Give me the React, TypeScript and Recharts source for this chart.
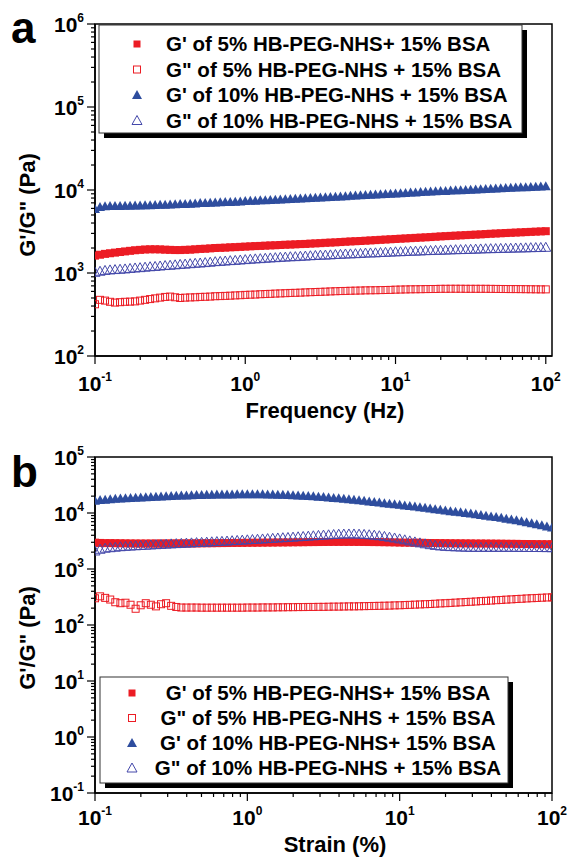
import React from 'react';
import { ScatterChart, Scatter, XAxis, YAxis, ReferenceArea } from 'recharts';

// ---------- data ----------
const freqHz = [
  0.1, 0.108, 0.1166, 0.1259, 0.1359, 0.1468, 0.1585, 0.1711, 0.1848, 0.1995,
  0.2154, 0.2326, 0.2512, 0.2712, 0.2929, 0.3162, 0.3415, 0.3687, 0.3981, 0.4299,
  0.4642, 0.5012, 0.5412, 0.5843, 0.631, 0.6813, 0.7356, 0.7943, 0.8577, 0.9261,
  1, 1.08, 1.166, 1.259, 1.359, 1.468, 1.585, 1.711, 1.848, 1.995,
  2.154, 2.326, 2.512, 2.712, 2.929, 3.162, 3.415, 3.687, 3.981, 4.299,
  4.642, 5.012, 5.412, 5.843, 6.31, 6.813, 7.356, 7.943, 8.577, 9.261,
  10, 10.8, 11.66, 12.59, 13.59, 14.68, 15.85, 17.11, 18.48, 19.95,
  21.54, 23.26, 25.12, 27.12, 29.29, 31.62, 34.15, 36.87, 39.81, 42.99,
  46.42, 50.12, 54.12, 58.43, 63.1, 68.13, 73.56, 79.43, 85.77, 92.61,
  100,
];
const strainPct = [
  0.1, 0.108, 0.1166, 0.1259, 0.1359, 0.1468, 0.1585, 0.1711, 0.1848, 0.1995,
  0.2154, 0.2326, 0.2512, 0.2712, 0.2929, 0.3162, 0.3415, 0.3687, 0.3981, 0.4299,
  0.4642, 0.5012, 0.5412, 0.5843, 0.631, 0.6813, 0.7356, 0.7943, 0.8577, 0.9261,
  1, 1.08, 1.166, 1.259, 1.359, 1.468, 1.585, 1.711, 1.848, 1.995,
  2.154, 2.326, 2.512, 2.712, 2.929, 3.162, 3.415, 3.687, 3.981, 4.299,
  4.642, 5.012, 5.412, 5.843, 6.31, 6.813, 7.356, 7.943, 8.577, 9.261,
  10, 10.8, 11.66, 12.59, 13.59, 14.68, 15.85, 17.11, 18.48, 19.95,
  21.54, 23.26, 25.12, 27.12, 29.29, 31.62, 34.15, 36.87, 39.81, 42.99,
  46.42, 50.12, 54.12, 58.43, 63.1, 68.13, 73.56, 79.43, 85.77, 92.61,
  100,
];

// Panel a (frequency sweep)
const aGp5 = [
  1620, 1660, 1700, 1730, 1760, 1790, 1820, 1850, 1880, 1900,
  1920, 1930, 1930, 1925, 1910, 1900, 1890, 1890, 1900, 1910,
  1930, 1950, 1960, 1980, 2000, 2010, 2020, 2040, 2050, 2065,
  2080, 2095, 2110, 2120, 2135, 2150, 2160, 2175, 2190, 2200,
  2215, 2230, 2240, 2260, 2275, 2290, 2310, 2325, 2340, 2360,
  2380, 2400, 2415, 2430, 2450, 2470, 2490, 2510, 2530, 2550,
  2570, 2590, 2610, 2630, 2650, 2670, 2690, 2710, 2735, 2760,
  2780, 2800, 2820, 2840, 2860, 2880, 2900, 2920, 2945, 2970,
  2990, 3010, 3030, 3050, 3070, 3090, 3110, 3130, 3150, 3170,
  3190,
];
const aGpp5 = [
  420, 475, 465, 450, 440, 445, 450, 452, 455, 465,
  475, 485, 495, 505, 515, 520, 510, 500, 505, 508,
  510, 515, 517, 520, 525, 527, 530, 533, 537, 540,
  545, 548, 550, 555, 558, 561, 565, 568, 571, 575,
  577, 580, 584, 587, 590, 593, 596, 600, 603, 606,
  608, 611, 613, 615, 618, 619, 620, 622, 624, 626,
  630, 632, 634, 636, 637, 638, 640, 641, 642, 645,
  645, 646, 646, 646, 645, 645, 645, 645, 645, 644,
  643, 642, 641, 640, 640, 639, 638, 637, 636, 635,
  635,
];
const aGp10 = [
  5900, 6250, 6350, 6400, 6400, 6420, 6450, 6480, 6500, 6500,
  6530, 6560, 6600, 6630, 6660, 6700, 6730, 6760, 6800, 6850,
  6900, 6950, 6980, 7000, 7060, 7100, 7150, 7180, 7220, 7280,
  7350, 7400, 7440, 7500, 7550, 7600, 7640, 7680, 7730, 7800,
  7850, 7900, 7960, 8000, 8050, 8100, 8170, 8230, 8300, 8350,
  8420, 8500, 8560, 8620, 8700, 8760, 8830, 8900, 8960, 9030,
  9100, 9160, 9230, 9300, 9360, 9430, 9500, 9560, 9630, 9700,
  9760, 9830, 9900, 9960, 10030, 10100, 10160, 10230, 10300, 10360,
  10430, 10500, 10560, 10630, 10700, 10760, 10830, 10900, 10970, 11040,
  11100,
];
const aGpp10 = [
  1020, 1050, 1075, 1090, 1100, 1110, 1120, 1135, 1150, 1160,
  1175, 1190, 1200, 1215, 1230, 1240, 1255, 1270, 1280, 1295,
  1310, 1320, 1335, 1350, 1370, 1380, 1395, 1410, 1420, 1435,
  1450, 1465, 1480, 1490, 1505, 1520, 1530, 1545, 1555, 1570,
  1575, 1590, 1600, 1615, 1625, 1640, 1645, 1655, 1670, 1680,
  1695, 1700, 1710, 1720, 1740, 1745, 1750, 1765, 1775, 1785,
  1800, 1805, 1815, 1830, 1835, 1845, 1860, 1865, 1875, 1880,
  1890, 1900, 1910, 1915, 1920, 1930, 1940, 1950, 1960, 1965,
  1970, 1980, 1985, 1990, 2000, 2005, 2010, 2020, 2025, 2030,
  2040,
];

// Panel b (strain sweep)
const bGp5 = [
  2950, 2920, 2900, 2900, 2890, 2880, 2870, 2860, 2855, 2850,
  2850, 2850, 2850, 2850, 2850, 2850, 2855, 2860, 2860, 2865,
  2870, 2880, 2885, 2890, 2900, 2905, 2910, 2920, 2925, 2930,
  2940, 2945, 2950, 2960, 2965, 2970, 2980, 2985, 2990, 3000,
  3005, 3010, 3020, 3025, 3030, 3040, 3045, 3050, 3050, 3050,
  3050, 3050, 3045, 3040, 3030, 3025, 3020, 3010, 3000, 2990,
  2970, 2960, 2950, 2945, 2935, 2920, 2910, 2905, 2895, 2890,
  2880, 2875, 2870, 2865, 2860, 2850, 2850, 2845, 2840, 2835,
  2830, 2820, 2815, 2810, 2800, 2795, 2790, 2780, 2775, 2770,
  2760,
];
const bGpp5 = [
  300, 325, 305, 285, 255, 245, 250, 230, 195, 225,
  245, 230, 215, 235, 245, 220, 210, 205, 205, 205,
  205, 204, 204, 204, 204, 204, 204, 204, 204, 204,
  205, 205, 205, 206, 206, 206, 207, 207, 208, 208,
  209, 209, 210, 210, 211, 211, 212, 213, 213, 214,
  215, 215, 216, 217, 218, 219, 220, 221, 222, 224,
  225, 227, 229, 231, 233, 235, 237, 240, 243, 245,
  248, 251, 254, 257, 260, 263, 267, 270, 273, 277,
  280, 284, 287, 291, 294, 298, 301, 304, 307, 310,
  312,
];
const bGp10 = [
  16500, 17000, 17300, 17600, 17900, 18100, 18300, 18550, 18800, 19000,
  19200, 19400, 19600, 19800, 20000, 20200, 20350, 20500, 20600, 20750,
  20900, 21000, 21150, 21250, 21300, 21400, 21450, 21500, 21550, 21600,
  21600, 21600, 21600, 21550, 21450, 21350, 21200, 21100, 20950, 20800,
  20600, 20400, 20100, 19850, 19600, 19300, 18950, 18600, 18300, 17950,
  17600, 17200, 16850, 16500, 16100, 15750, 15400, 15000, 14650, 14300,
  14000, 13650, 13300, 13000, 12650, 12350, 12000, 11700, 11400, 11100,
  10800, 10550, 10300, 10000, 9750, 9500, 9250, 8950, 8700, 8450,
  8200, 7900, 7650, 7400, 7100, 6850, 6550, 6300, 6050, 5750,
  5500,
];
const bGpp10 = [
  2100, 2250, 2350, 2400, 2450, 2500, 2540, 2570, 2600, 2630,
  2660, 2690, 2720, 2750, 2780, 2810, 2840, 2870, 2900, 2930,
  2960, 2990, 3020, 3060, 3090, 3120, 3160, 3200, 3240, 3280,
  3320, 3360, 3400, 3440, 3490, 3530, 3580, 3620, 3660, 3710,
  3760, 3810, 3860, 3920, 3980, 4030, 4080, 4130, 4180, 4210,
  4220, 4220, 4190, 4150, 4090, 4020, 3930, 3820, 3700, 3580,
  3450, 3320, 3180, 3050, 2930, 2820, 2720, 2640, 2580, 2540,
  2510, 2490, 2470, 2450, 2440, 2440, 2440, 2440, 2440, 2440,
  2440, 2440, 2440, 2435, 2430, 2425, 2420, 2420, 2415, 2410,
  2400,
];

const legendA = [
  "G' of 5% HB-PEG-NHS+ 15% BSA",
  'G" of 5% HB-PEG-NHS + 15% BSA',
  "G' of 10% HB-PEG-NHS + 15% BSA",
  'G" of 10% HB-PEG-NHS + 15% BSA',
];
const legendB = [
  "G' of 5% HB-PEG-NHS+ 15% BSA",
  'G" of 5% HB-PEG-NHS + 15% BSA',
  "G' of 10% HB-PEG-NHS+ 15% BSA",
  'G" of 10% HB-PEG-NHS + 15% BSA',
];

const xDecades = [0.1, 1, 10, 100];
const yDecadesA = [100, 1000, 10000, 100000, 1000000];
const yDecadesB = [0.1, 1, 10, 100, 1000, 10000, 100000];
const minorMantissas = [2, 3, 4, 5, 6, 7, 8, 9];

// ---------- helpers ----------
const FONT = '"Liberation Sans", Arial, Helvetica, sans-serif';
const RED = '#EC1C24';
const BLUE = '#2E4D9E';
const BLUE_H = '#4448AA';

const buildTicks = (decades: number[]) => {
  const out: number[] = [];
  decades.forEach((d, i) => {
    out.push(d);
    if (i < decades.length - 1) minorMantissas.forEach((m) => out.push(m * d));
  });
  return out;
};
const toPoints = (xs: number[], ys: number[]) => xs.map((x, i) => ({ x, y: ys[i] }));

const isMajor = (v: number) => {
  const l = Math.log10(v);
  return Math.abs(l - Math.round(l)) < 1e-6;
};

const XTick = (props: any) => {
  const { x, y, payload } = props;
  const v = payload.value;
  const major = isMajor(v);
  const exp = Math.round(Math.log10(v));
  return (
    <g>
      <line x1={x} y1={y} x2={x} y2={y + (major ? 8 : 4)} stroke="#000" strokeWidth={1.2} />
      {major && (
        <text x={x} y={y + props.labelOffset} textAnchor="middle" fontFamily={FONT} fontWeight="bold" fontSize={21} fill="#000">
          <tspan>10</tspan>
          <tspan dy={-10} fontSize={12}>{exp}</tspan>
        </text>
      )}
    </g>
  );
};

const YTick = (props: any) => {
  const { x, y, payload } = props;
  const v = payload.value;
  const major = isMajor(v);
  const exp = Math.round(Math.log10(v));
  return (
    <g>
      <line x1={x} y1={y} x2={x - (major ? 8 : 4)} y2={y} stroke="#000" strokeWidth={1.2} />
      {major && (
        <text x={x - 11} y={y + 8} textAnchor="end" fontFamily={FONT} fontWeight="bold" fontSize={21} fill="#000">
          <tspan>10</tspan>
          <tspan dy={-10} fontSize={12}>{exp}</tspan>
        </text>
      )}
    </g>
  );
};

const SQ = 4; // half size of squares
const TW = 5; // half width of triangles
const FilledSquare = (p: any) =>
  p.cx == null ? <g /> : <rect x={p.cx - SQ} y={p.cy - SQ} width={SQ * 2} height={SQ * 2} fill={RED} />;
const HollowSquare = (p: any) =>
  p.cx == null ? <g /> : <rect x={p.cx - SQ + 0.5} y={p.cy - SQ + 0.5} width={SQ * 2 - 1} height={SQ * 2 - 1} fill="none" stroke={RED} strokeWidth={1} />;
const triPts = (cx: number, cy: number) => `${cx},${cy - 5} ${cx + TW},${cy + 4} ${cx - TW},${cy + 4}`;
const FilledTri = (p: any) => (p.cx == null ? <g /> : <polygon points={triPts(p.cx, p.cy)} fill={BLUE} />);
const HollowTri = (p: any) =>
  p.cx == null ? <g /> : <polygon points={triPts(p.cx, p.cy)} fill="none" stroke={BLUE_H} strokeWidth={1} />;

type PanelProps = {
  top: number;
  height: number;
  marginTop: number;
  xAxisHeight: number;
  xs: number[];
  xMax: number;
  yDomain: [number, number];
  yDecades: number[];
  series: number[][];
  labelOffset: number;
};

const Panel = ({ top, height, marginTop, xAxisHeight, xs, xMax, yDomain, yDecades, series, labelOffset }: PanelProps) => {
  const xTicks = buildTicks(xDecades);
  const yTicks = buildTicks(yDecades);
  const shapes = [FilledSquare, HollowSquare, FilledTri, HollowTri];
  return (
    <div style={{ position: 'absolute', left: 0, top }}>
      <ScatterChart width={569} height={height} margin={{ top: marginTop, right: 17, bottom: 0, left: 0 }}>
        <XAxis
          type="number"
          dataKey="x"
          scale="log"
          domain={[0.1, xMax]}
          allowDataOverflow
          ticks={xTicks}
          interval={0}
          height={xAxisHeight}
          tickSize={0}
          tickMargin={0}
          tickLine={false}
          axisLine={{ stroke: '#000', strokeWidth: 1.5 }}
          tick={(p: any) => <XTick {...p} labelOffset={labelOffset} />}
        />
        <YAxis
          type="number"
          dataKey="y"
          scale="log"
          domain={yDomain}
          allowDataOverflow
          ticks={yTicks}
          interval={0}
          width={95}
          tickSize={0}
          tickMargin={0}
          tickLine={false}
          axisLine={{ stroke: '#000', strokeWidth: 1.5 }}
          tick={(p: any) => <YTick {...p} />}
        />
        {series.map((ys, i) => (
          <Scatter key={i} data={toPoints(xs, ys)} shape={shapes[i]} isAnimationActive={false} />
        ))}
        <ReferenceArea x1={0.1} x2={xMax} y1={yDomain[0]} y2={yDomain[1]} fill="none" stroke="#000" strokeWidth={1.5} ifOverflow="visible" />
      </ScatterChart>
    </div>
  );
};

const LegendMarker = ({ kind, x, y }: { kind: number; x: number; y: number }) => {
  if (kind === 0) return <rect x={x - 3.5} y={y - 3.5} width={7} height={7} fill={RED} />;
  if (kind === 1) return <rect x={x - 3.5} y={y - 3.5} width={7} height={7} fill="none" stroke={RED} strokeWidth={1} />;
  const pts = `${x},${y - 5} ${x + 5},${y + 4} ${x - 5},${y + 4}`;
  if (kind === 2) return <polygon points={pts} fill={BLUE} />;
  return <polygon points={pts} fill="none" stroke={BLUE_H} strokeWidth={1} />;
};

export default function App() {
  return (
    <div style={{ position: 'absolute', left: 0, top: 0, width: 569, height: 858, background: '#fff', overflow: 'hidden' }}>
      <Panel
        top={0}
        height={430}
        marginTop={24}
        xAxisHeight={74}
        xs={freqHz}
        xMax={110}
        yDomain={[100, 1000000]}
        yDecades={yDecadesA}
        series={[aGp5, aGpp5, aGp10, aGpp10]}
        labelOffset={35}
      />
      <Panel
        top={430}
        height={428}
        marginTop={27}
        xAxisHeight={65}
        xs={strainPct}
        xMax={100}
        yDomain={[0.1, 100000]}
        yDecades={yDecadesB}
        series={[bGp5, bGpp5, bGp10, bGpp10]}
        labelOffset={32}
      />
      <svg width={569} height={858} style={{ position: 'absolute', left: 0, top: 0, pointerEvents: 'none' }}>
        {/* panel letters */}
        <text x={11} y={43} fontFamily={FONT} fontWeight="bold" fontSize={44} fill="#000">a</text>
        <text x={11} y={487} fontFamily={FONT} fontWeight="bold" fontSize={44} fill="#000">b</text>

        {/* axis titles */}
        <text x={325} y={418} textAnchor="middle" fontFamily={FONT} fontWeight="bold" fontSize={22} fill="#000">Frequency (Hz)</text>
        <text x={335} y={852} textAnchor="middle" fontFamily={FONT} fontWeight="bold" fontSize={22} fill="#000">Strain (%)</text>
        <text transform="translate(35,205) rotate(-90)" textAnchor="middle" fontFamily={FONT} fontWeight="bold" fontSize={22} fill="#000">G'/G" (Pa)</text>
        <text transform="translate(35,638) rotate(-90)" textAnchor="middle" fontFamily={FONT} fontWeight="bold" fontSize={22} fill="#000">G'/G" (Pa)</text>

        {/* legend a */}
        <rect x={104} y={30} width={423} height={108} fill="#000" />
        <rect x={99} y={25} width={423} height={108} fill="#fff" stroke="#333" strokeWidth={1} />
        {legendA.map((t, i) => (
          <g key={i}>
            <LegendMarker kind={i} x={137} y={44 + i * 25.5} />
            <text x={166} y={51 + i * 25.5} fontFamily={FONT} fontWeight="bold" fontSize={20.5} fill="#000">{t}</text>
          </g>
        ))}

        {/* legend b */}
        <rect x={105} y={682} width={408} height={106} fill="#000" />
        <rect x={100} y={677} width={408} height={106} fill="#fff" stroke="#333" strokeWidth={1} />
        {legendB.map((t, i) => (
          <g key={i}>
            <LegendMarker kind={i} x={132} y={693 + i * 25} />
            <text x={328} y={700 + i * 25} textAnchor="middle" fontFamily={FONT} fontWeight="bold" fontSize={20.5} fill="#000">{t}</text>
          </g>
        ))}
      </svg>
    </div>
  );
}
